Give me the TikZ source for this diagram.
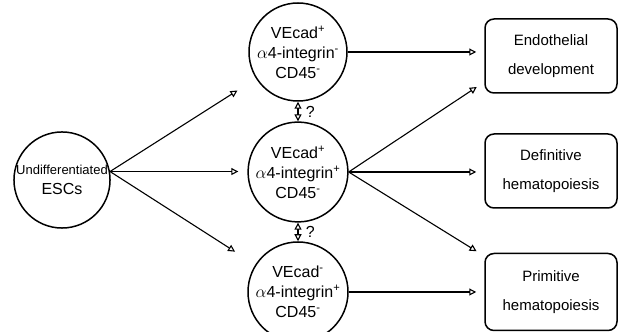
\documentclass[tikz,border=0pt]{standalone}
\usepackage{fontspec}
\setmainfont{Liberation Sans}
\usetikzlibrary{arrows.meta}

\begin{document}
\begin{tikzpicture}[x=1pt, y=1pt,
  cell/.style={draw, circle, line width=1.5pt, minimum size=98pt, inner sep=0pt, align=center, font=\fontsize{16}{20}\selectfont},
  fate/.style={draw, rounded corners=9pt, line width=1.5pt, minimum width=132pt, minimum height=74pt, align=center, font=\fontsize{15}{29}\selectfont},
  link/.style={line width=1.1pt, -{Triangle[open, length=7pt, width=7pt]}},
  both/.style={line width=1.1pt, {Triangle[open, length=7pt, width=7pt]}-{Triangle[open, length=7pt, width=7pt]}}]
\useasboundingbox (0,0) rectangle (625,332);
% start population
\node[cell, minimum size=96pt] (escs) at (62,152) {{\fontsize{13}{23}\selectfont Undifferentiated}\\ESCs};
% intermediate populations
\node[cell] (pop1) at (298,280) {VEcad\textsuperscript{+}\\$\alpha$4-integrin\textsuperscript{-}\\CD45\textsuperscript{-}};
\node[cell] (pop2) at (298,160) {VEcad\textsuperscript{+}\\$\alpha$4-integrin\textsuperscript{+}\\CD45\textsuperscript{-}};
\node[cell, minimum size=100pt] (pop3) at (298,40) {VEcad\textsuperscript{-}\\$\alpha$4-integrin\textsuperscript{+}\\CD45\textsuperscript{-}};
% fates
\node[fate] (endo) at (551,276) {Endothelial\\development};
\node[fate] (defin) at (551,161) {Definitive\\hematopoiesis};
\node[fate, minimum height=77pt] (prim) at (551,40) {Primitive\\hematopoiesis};

\draw[link, shorten >=22pt] (escs.10) -- (pop1);
\draw[link, shorten >=9pt] (escs.10) -- (escs.10 -| pop2.west);
\draw[link, shorten >=24pt] (escs.10) -- (pop3);

\draw[both] (pop1.south) -- (pop2.north) node[midway, right=4pt, font=\fontsize{16}{18}\selectfont] (q1) {?};
\draw[both] (pop2.south) -- (pop3.north) node[midway, right=4pt, font=\fontsize{16}{18}\selectfont] (q2) {?};

\draw[link, shorten >=8pt] (pop1.east) -- (pop1.east -| endo.west);
\draw[link, shorten >=9pt] (pop2.east) -- ([yshift=-26pt]endo.west);
\draw[link, shorten >=8pt] (pop2.east) -- (pop2.east -| defin.west);
\draw[link, shorten >=9pt] (pop2.east) -- ([yshift=36pt]prim.west);
\draw[link, shorten >=8pt] (pop3.east) -- (pop3.east -| prim.west);
\end{tikzpicture}
\end{document}
